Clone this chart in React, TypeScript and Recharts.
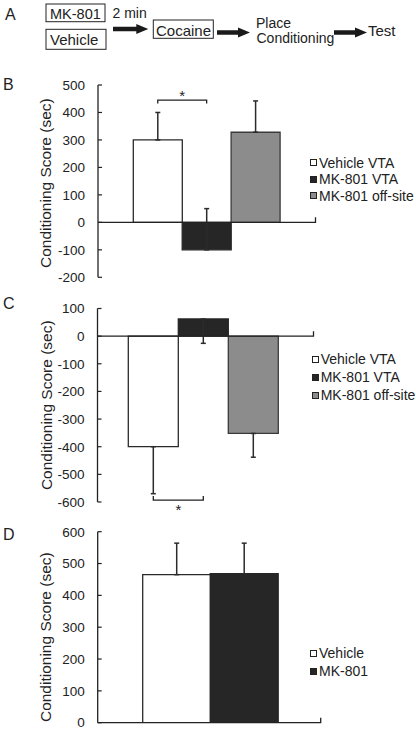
import React from 'react'
import {
  BarChart, Bar, Cell, XAxis, YAxis, ErrorBar, ReferenceLine, Legend,
} from 'recharts'

const INK = '#222'
const FONT = '"Liberation Sans", Arial, Helvetica, sans-serif'
const Y_TITLE = 'Conditioning Score (sec)'

// B: intra-VTA infusion before cocaine conditioning
const groupsB = ['Vehicle VTA', 'MK-801 VTA', 'MK-801 off-site']
const meansB = [300, -100, 328]
const errB = [100, 150, 114]
const ticksB = [-200, -100, 0, 100, 200, 300, 400, 500]

// C
const groupsC = ['Vehicle VTA', 'MK-801 VTA', 'MK-801 off-site']
const meansC = [-400, 62, -352]
const errC = [170, 88, 86]
const ticksC = [-600, -500, -400, -300, -200, -100, 0, 100]

// D
const groupsD = ['Vehicle', 'MK-801']
const meansD = [465, 468]
const errD = [99, 96]
const ticksD = [0, 100, 200, 300, 400, 500, 600]

const fills3 = ['#ffffff', '#262626', '#8c8c8c']
const strokes3 = ['#2a2a2a', '#262626', '#3a3a3a']

// error bars only drawn on one side (up for B/D, down for C)
function makeRows(groups: string[], means: number[], errs: number[], up: boolean) {
  return groups.map((name, i) => ({
    name,
    value: means[i],
    err: up ? [0, errs[i]] : [errs[i], 0],
  }))
}

function ZeroAxis(props: any) {
  const { x1, x2, y1 } = props
  const l = Math.min(x1, x2)
  const r = Math.max(x1, x2)
  return <path d={`M${l},${y1}H${r}V${y1 - 5}`} fill="none" stroke={INK} strokeWidth={1.3} />
}

function Bracket(props: any) {
  const { x1, x2, y1, tick, starDy } = props
  const l = Math.min(x1, x2)
  const r = Math.max(x1, x2)
  return (
    <g>
      <path d={`M${l},${y1 + tick}V${y1}H${r}V${y1 + tick}`} fill="none" stroke={INK} strokeWidth={1.3} />
      <text x={(l + r) / 2} y={y1 + starDy} textAnchor="middle" fontSize={15} fill={INK}>*</text>
    </g>
  )
}

function Key({ names, fills, rowH }: { names: string[]; fills: string[]; rowH: number }) {
  return (
    <div style={{ fontSize: 14, color: INK, lineHeight: `${rowH}px`, fontFamily: FONT }}>
      {names.map((n, i) => (
        <div key={n} style={{ display: 'flex', alignItems: 'center', whiteSpace: 'nowrap' }}>
          <span style={{
            width: 7, height: 7, boxSizing: 'border-box', border: `1px solid ${INK}`,
            background: fills[i], marginRight: 2, display: 'inline-block',
          }} />
          {n}
        </div>
      ))}
    </div>
  )
}

interface PanelProps {
  top: number
  height: number
  margin: { top: number; right: number; bottom: number; left: number }
  axisW: number
  pad: { left: number; right: number }
  groups: string[]
  rows: any[]
  domain: [number, number]
  ticks: number[]
  titleDy?: number
  legend: { left: number; top: number; rowH: number }
  sig?: { level: number; tick: number; starDy: number }
}

function ScorePanel(p: PanelProps) {
  return (
    <div style={{ position: 'absolute', left: 0, top: p.top }}>
      <BarChart width={416} height={p.height} data={p.rows} margin={p.margin} barCategoryGap={0}>
        <XAxis dataKey="name" hide padding={p.pad} />
        <YAxis
          type="number" domain={p.domain} ticks={p.ticks} interval={0} width={p.axisW}
          allowDataOverflow
          axisLine={{ stroke: INK, strokeWidth: 1.3 }}
          tickLine={{ stroke: INK, strokeWidth: 1.2 }}
          tickSize={-4} tickMargin={17}
          tick={{ fill: INK, fontSize: 13.5 }}
          label={{
            value: Y_TITLE, angle: -90, position: 'insideLeft', offset: 46, dy: p.titleDy ?? 0,
            style: { textAnchor: 'middle', fill: INK, fontSize: 15.5 },
          }}
        />
        <Bar dataKey="value" isAnimationActive={false} strokeWidth={1.3}>
          {p.rows.map((r, i) => (
            <Cell key={r.name} fill={fills3[i]} stroke={strokes3[i]} />
          ))}
          <ErrorBar dataKey="err" width={2.5} stroke="#2b2b2b" strokeWidth={1.5} />
        </Bar>
        <ReferenceLine y={0} ifOverflow="visible" shape={(s: any) => <ZeroAxis {...s} />} />
        {p.sig && (
          <ReferenceLine
            segment={[{ x: p.groups[0], y: p.sig.level }, { x: p.groups[1], y: p.sig.level }]}
            ifOverflow="visible"
            shape={(s: any) => <Bracket {...s} tick={p.sig!.tick} starDy={p.sig!.starDy} />}
          />
        )}
        <Legend
          layout="vertical" align="center" verticalAlign="middle"
          wrapperStyle={{ left: p.legend.left, top: p.legend.top, width: 110 }}
          content={() => <Key names={p.groups} fills={fills3} rowH={p.legend.rowH} />}
        />
      </BarChart>
    </div>
  )
}

function Arrow({ x0, x1, cy }: { x0: number; x1: number; cy: number }) {
  const hx = x1 - 12
  return (
    <polygon
      points={`${x0},${cy - 2.3} ${hx},${cy - 2.3} ${hx},${cy - 5} ${x1},${cy} ${hx},${cy + 5} ${hx},${cy + 2.3} ${x0},${cy + 2.3}`}
      fill="#1a1a1a"
    />
  )
}

function Schematic() {
  const t = { fill: INK, fontFamily: FONT }
  return (
    <svg width={416} height={730} style={{ position: 'absolute', left: 0, top: 0 }}>
      <text x={5} y={20} fontSize={16} {...t}>A</text>
      <rect x={46} y={4} width={59} height={17.7} fill="none" stroke={INK} strokeWidth={1} />
      <text x={50} y={19.3} fontSize={14.5} {...t}>MK-801</text>
      <rect x={46} y={29.3} width={60} height={20} fill="none" stroke={INK} strokeWidth={1} />
      <text x={50} y={45} fontSize={15} {...t}>Vehicle</text>
      <text x={112.5} y={18.3} fontSize={14} {...t}>2 min</text>
      <Arrow x0={113} x1={148.3} cy={29} />
      <rect x={153.3} y={20} width={60} height={18.3} fill="none" stroke={INK} strokeWidth={1} />
      <text x={156} y={35.5} fontSize={15} {...t}>Cocaine</text>
      <Arrow x0={217} x1={250} cy={32.5} />
      <text x={256} y={28.3} fontSize={14} {...t}>Place</text>
      <text x={256.5} y={43.3} fontSize={14} {...t}>Conditioning</text>
      <Arrow x0={334} x1={367} cy={32.5} />
      <text x={368} y={36} fontSize={15} {...t}>Test</text>

      <text x={3} y={90} fontSize={16} {...t}>B</text>
      <text x={3} y={308.5} fontSize={16} {...t}>C</text>
      <text x={3} y={540} fontSize={16} {...t}>D</text>
    </svg>
  )
}

export default function App() {
  return (
    <div style={{
      position: 'absolute', left: 0, top: 0, width: 416, height: 730,
      background: '#fff', fontFamily: FONT, overflow: 'hidden',
    }}>
      <Schematic />
      <ScorePanel
        top={75} height={225}
        margin={{ top: 10, right: 100.5, bottom: 22.7, left: 0 }}
        axisW={98} pad={{ left: 35.3, right: 35.5 }}
        groups={groupsB} rows={makeRows(groupsB, meansB, errB, true)}
        domain={[-200, 500]} ticks={ticksB} titleDy={2}
        legend={{ left: 310, top: 79.5, rowH: 16.5 }}
        sig={{ level: 445, tick: 3.5, starDy: 0.5 }}
      />
      <ScorePanel
        top={300} height={225}
        margin={{ top: 8.5, right: 102.5, bottom: 23, left: 0 }}
        axisW={97.5} pad={{ left: 30.8, right: 35.2 }}
        groups={groupsC} rows={makeRows(groupsC, meansC, errC, false)}
        domain={[-600, 100]} ticks={ticksC}
        legend={{ left: 311.7, top: 51, rowH: 17.8 }}
        sig={{ level: -593, tick: -4, starDy: 15 }}
      />
      <ScorePanel
        top={525} height={205}
        margin={{ top: 6.7, right: 95.3, bottom: 7.3, left: 0 }}
        axisW={97.7} pad={{ left: 45, right: 43 }}
        groups={groupsD} rows={makeRows(groupsD, meansD, errD, true)}
        domain={[0, 600]} ticks={ticksD} titleDy={10}
        legend={{ left: 310, top: 119, rowH: 18.3 }}
      />
    </div>
  )
}
